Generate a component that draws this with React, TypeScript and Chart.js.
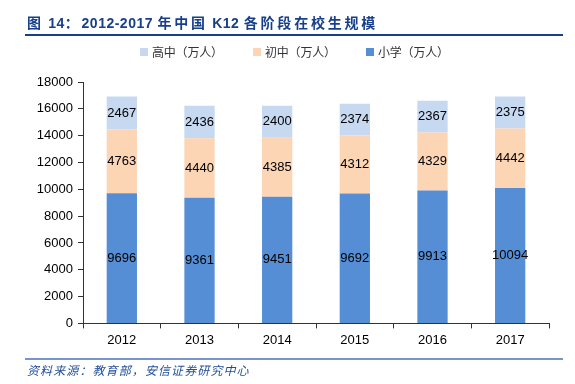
import React, { useEffect, useRef } from "react";
import { Chart, registerables } from "chart.js";

Chart.register(...registerables);

const years = ["2012", "2013", "2014", "2015", "2016", "2017"];
const primary = [9696, 9361, 9451, 9692, 9913, 10094];
const middle = [4763, 4440, 4385, 4312, 4329, 4442];
const high = [2467, 2436, 2400, 2374, 2367, 2375];
const seriesNames = ["小学（万人）", "初中（万人）", "高中（万人）"];
const colors = ["#558ED5", "#FCD5B5", "#C6D9F1"];
const titleText = "图 14：2012-2017 年中国 K12 各阶段在校生规模";
const sourceText = "资料来源：教育部，安信证券研究中心";

const isCJK = (c: string) => /[\u3000-\u9fff\uff00-\uffef]/.test(c);

const decor = {
  id: "decor",
  afterDraw(chart: any) {
    const ctx = chart.ctx;
    ctx.save();
    // title
    ctx.fillStyle = "#173F8A";
    ctx.font = "bold 14px 'Liberation Sans', 'Noto Sans CJK SC', sans-serif";
    ctx.textBaseline = "alphabetic";
    ctx.textAlign = "left";
    let tx = 27;
    for (const ch of titleText) {
      ctx.fillText(ch, tx, 28);
      tx += isCJK(ch) ? 16.8 : ctx.measureText(ch).width + 0.5;
    }
    ctx.strokeStyle = "#173F8A";
    ctx.lineWidth = 2;
    ctx.beginPath();
    ctx.moveTo(25, 35);
    ctx.lineTo(563, 35);
    ctx.stroke();
    // legend (reverse order)
    ctx.font = "12px 'Noto Sans CJK SC', sans-serif";
    ctx.textBaseline = "middle";
    const legendX = [140, 253, 366];
    const order = [2, 1, 0];
    order.forEach((si, i) => {
      const x = legendX[i];
      ctx.fillStyle = colors[si];
      ctx.fillRect(x, 48, 8, 8);
      ctx.fillStyle = "#333";
      let lx = x + 12;
      for (const ch of seriesNames[si]) {
        ctx.fillText(ch, lx, 52);
        lx += 11.8;
      }
    });
    // footer
    ctx.strokeStyle = "#4A72B8";
    ctx.lineWidth = 1.5;
    ctx.beginPath();
    ctx.moveTo(25, 359);
    ctx.lineTo(563, 359);
    ctx.stroke();
    ctx.fillStyle = "#1F4E99";
    ctx.font = "italic 12px 'Noto Sans CJK SC', sans-serif";
    ctx.textBaseline = "middle";
    let fx = 27;
    for (const ch of sourceText) {
      ctx.fillText(ch, fx, 370);
      fx += 13.1;
    }
    // data labels
    ctx.fillStyle = "#000";
    ctx.font = "13px 'Liberation Sans', Arial, sans-serif";
    ctx.textAlign = "center";
    ctx.textBaseline = "middle";
    chart.data.datasets.forEach((ds: any, di: number) => {
      const meta = chart.getDatasetMeta(di);
      meta.data.forEach((el: any, i: number) => {
        const y = (el.y + el.base) / 2;
        ctx.fillText(String(ds.data[i]), el.x, y);
      });
    });
    ctx.restore();
  },
};

export default function App() {
  const ref = useRef<HTMLCanvasElement>(null);
  useEffect(() => {
    const chart = new Chart(ref.current!, {
      type: "bar",
      data: {
        labels: years,
        datasets: [
          { label: seriesNames[0], data: primary, backgroundColor: colors[0] },
          { label: seriesNames[1], data: middle, backgroundColor: colors[1] },
          { label: seriesNames[2], data: high, backgroundColor: colors[2] },
        ].map((d) => ({ ...d, categoryPercentage: 1, barPercentage: 0.39 })),
      },
      plugins: [decor],
      options: {
        animation: false,
        responsive: false,
        layout: { padding: { top: 82, left: 10, right: 26, bottom: 32 } },
        plugins: { legend: { display: false }, tooltip: { enabled: false } },
        scales: {
          x: {
            stacked: true,
            grid: { display: true, drawOnChartArea: false, drawTicks: true, tickLength: 5, color: "#333" },
            border: { display: true, color: "#333", width: 1 },
            ticks: { color: "#000", font: { size: 13, family: "'Liberation Sans', Arial, sans-serif" }, padding: 4 },
          },
          y: {
            stacked: true,
            min: 0,
            max: 18000,
            afterFit: (s: any) => { s.width = 73; },
            grid: { display: true, drawOnChartArea: false, drawTicks: true, tickLength: 5, color: "#333" },
            border: { display: true, color: "#333", width: 1 },
            ticks: {
              stepSize: 2000,
              color: "#000",
              font: { size: 13, family: "'Liberation Sans', Arial, sans-serif" },
              padding: 5,
              callback: (v: any) => String(v),
            },
          },
        },
      },
    });
    return () => chart.destroy();
  }, []);
  return (
    <div style={{ position: "fixed", left: 0, top: 0, width: 575, height: 384, background: "#fff" }}>
      <canvas ref={ref} width={575} height={384} style={{ width: 575, height: 384 }} />
    </div>
  );
}
